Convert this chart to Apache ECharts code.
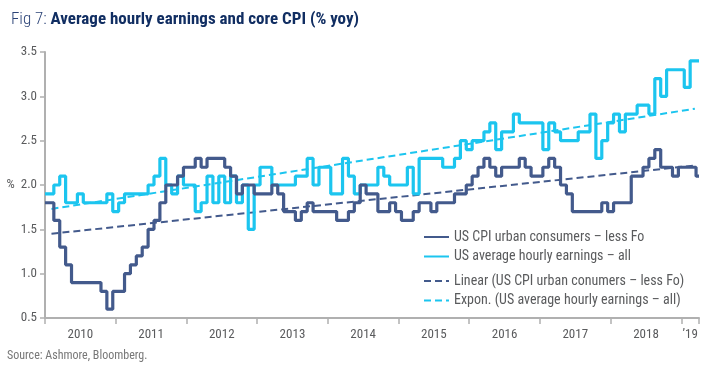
<!DOCTYPE html>
<html>
<head>
<meta charset="utf-8">
<script src="https://cdn.jsdelivr.net/npm/echarts@6/dist/echarts.min.js"></script>
<style>
  html, body { margin: 0; padding: 0; background: #fff; }
  #chart { width: 720px; height: 375px; }
</style>
</head>
<body>
<div id="chart"></div>
<script>
// monthly values, Dec 2009 .. Feb 2019 (% yoy)
const coreCpi = [
  1.8,
  1.6, 1.3, 1.1, 0.9, 0.9, 0.9, 0.9, 0.9, 0.8, 0.6, 0.8, 0.8,
  1.0, 1.1, 1.2, 1.3, 1.5, 1.6, 1.8, 2.0, 2.0, 2.1, 2.2, 2.2,
  2.3, 2.2, 2.3, 2.3, 2.3, 2.2, 2.1, 1.9, 2.0, 2.0, 1.9, 1.9,
  1.9, 2.0, 1.9, 1.7, 1.7, 1.6, 1.7, 1.8, 1.7, 1.7, 1.7, 1.7,
  1.6, 1.6, 1.7, 1.8, 2.0, 1.9, 1.9, 1.7, 1.7, 1.8, 1.7, 1.6,
  1.6, 1.7, 1.8, 1.8, 1.7, 1.8, 1.8, 1.8, 1.9, 1.9, 2.0, 2.1,
  2.2, 2.3, 2.2, 2.1, 2.2, 2.2, 2.2, 2.3, 2.2, 2.1, 2.1, 2.2,
  2.3, 2.2, 2.0, 1.9, 1.7, 1.7, 1.7, 1.7, 1.7, 1.8, 1.7, 1.8,
  1.8, 1.8, 2.1, 2.1, 2.2, 2.3, 2.4, 2.2, 2.2, 2.1, 2.2, 2.2,
  2.2, 2.1
];
const hourlyEarnings = [
  1.9,
  2.0, 2.1, 1.8, 1.8, 1.9, 1.8, 1.8, 1.8, 1.8, 1.9, 1.7, 1.8,
  1.9, 1.9, 1.9, 1.9, 2.0, 2.1, 2.3, 2.0, 1.9, 2.1, 2.0, 2.0,
  1.7, 1.8, 2.1, 1.8, 2.1, 1.8, 2.1, 1.8, 2.0, 1.5, 2.0, 2.2,
  2.2, 2.0, 2.0, 2.0, 2.0, 2.1, 2.1, 2.3, 2.0, 2.2, 2.2, 1.9,
  1.9, 2.3, 2.1, 1.9, 2.0, 2.0, 2.0, 2.2, 2.1, 2.0, 2.0, 2.0,
  2.2, 1.9, 2.3, 2.3, 2.3, 2.3, 2.2, 2.2, 2.3, 2.5, 2.4, 2.5,
  2.5, 2.6, 2.7, 2.4, 2.6, 2.6, 2.8, 2.7, 2.7, 2.7, 2.7, 2.4,
  2.7, 2.6, 2.5, 2.5, 2.5, 2.6, 2.6, 2.8, 2.3, 2.5, 2.7, 2.8,
  2.6, 2.8, 2.8, 2.9, 2.9, 2.8, 3.2, 3.0, 3.3, 3.3, 3.3, 3.1,
  3.4, 3.4
];
// trend lines: [start, end] values over the span (months since Jan 2010)
const trendSpan = [1.1, 110.3];
const cpiLinear = [1.45, 2.22];
const earningsExpon = [1.73, 2.86];

const yearLabels = ['2010', '2011', '2012', '2013', '2014', '2015', '2016', '2017', '2018', '\u201919'];

const names = [
  'US CPI urban consumers \u2013 less Fo',
  'US average hourly earnings \u2013 all',
  'Linear (US CPI urban conumers \u2013 less Fo)',
  'Expon. (US average hourly earnings \u2013 all)'
];

const releaseLag = 1.5; // a month's figure shows up mid next month
const axisEnd = 111;
const darkBlue = '#435a8c';
const lightBlue = '#1cc5ef';
const grey = '#5a5b5d';
const font = '"Roboto Condensed", Roboto, "Liberation Sans", sans-serif';

function stepPoints(values) {
  const pts = values.map((v, i) => [i === 0 ? 0 : i - 1 + releaseLag, v]);
  pts.push([axisEnd, values[values.length - 1]]);
  return pts;
}

const yearStarts = yearLabels.map((_, i) => i * 12).concat([axisEnd]);
const labelSpots = yearLabels.map((_, i) => (i < yearLabels.length - 1 ? i * 12 + 6 : (i * 12 + axisEnd) / 2));

const legendBase = {
  orient: 'vertical',
  left: 418,
  itemWidth: 25,
  itemHeight: 10,
  itemGap: 5.5,
  itemStyle: { opacity: 0 },
  textStyle: { fontFamily: font, fontSize: 14, lineHeight: 14, color: grey }
};

const chart = echarts.init(document.getElementById('chart'));
chart.setOption({
  animation: false,
  textStyle: { fontFamily: font },
  title: {
    left: 6,
    top: 6,
    text: '{a|Fig 7: }{b|Average hourly earnings and core CPI (% yoy)}',
    textStyle: {
      rich: {
        a: { fontFamily: font, fontSize: 17, fontWeight: 300, color: '#2b4377' },
        b: { fontFamily: font, fontSize: 17, fontWeight: 'bold', color: '#112e62' }
      }
    }
  },
  graphic: [{
    type: 'text',
    left: 7,
    top: 350,
    style: { text: 'Source: Ashmore, Bloomberg.', font: '12px ' + font, fill: '#777' }
  }],
  legend: [
    Object.assign({ data: [names[0], names[1]], top: 225 }, legendBase),
    Object.assign({ data: [names[2], names[3]], top: 269 }, legendBase)
  ],
  grid: { left: 45, right: 21, top: 52, bottom: 57 },
  xAxis: {
    type: 'value',
    min: 0,
    max: axisEnd,
    splitLine: { show: false },
    axisLine: { lineStyle: { color: '#b0b0b0', width: 2 } },
    axisTick: { customValues: yearStarts, length: 6, lineStyle: { color: '#b0b0b0', width: 1.5 } },
    axisLabel: {
      customValues: labelSpots,
      color: grey,
      fontSize: 13,
      margin: 10,
      formatter: (v) => yearLabels[Math.min(Math.floor(v / 12), yearLabels.length - 1)]
    }
  },
  yAxis: {
    type: 'value',
    min: 0.5,
    max: 3.5,
    interval: 0.5,
    name: '%',
    nameLocation: 'middle',
    nameRotate: 0,
    nameGap: 27,
    nameTextStyle: { color: grey, fontSize: 13 },
    splitLine: { show: false },
    axisLine: { show: true, lineStyle: { color: '#b0b0b0', width: 2 } },
    axisTick: { show: true, length: 5, lineStyle: { color: '#b0b0b0', width: 1.5 } },
    axisLabel: { color: grey, fontSize: 13, margin: 8, formatter: (v) => v.toFixed(1) }
  },
  series: [
    {
      name: names[2],
      type: 'line',
      data: trendSpan.map((x, i) => [x, cpiLinear[i]]),
      symbol: 'none',
      lineStyle: { color: darkBlue, width: 2, type: [7, 4] },
      itemStyle: { color: darkBlue },
      z: 3
    },
    {
      name: names[3],
      type: 'line',
      data: trendSpan.map((x, i) => [x, earningsExpon[i]]),
      symbol: 'none',
      lineStyle: { color: lightBlue, width: 2, type: [7, 4] },
      itemStyle: { color: lightBlue },
      z: 3
    },
    {
      name: names[1],
      type: 'line',
      step: 'end',
      data: stepPoints(hourlyEarnings),
      symbol: 'none',
      lineStyle: { color: lightBlue, width: 3.2 },
      itemStyle: { color: lightBlue },
      z: 4
    },
    {
      name: names[0],
      type: 'line',
      step: 'end',
      data: stepPoints(coreCpi),
      symbol: 'none',
      lineStyle: { color: darkBlue, width: 3.2 },
      itemStyle: { color: darkBlue },
      z: 5
    }
  ]
});
</script>
</body>
</html>
